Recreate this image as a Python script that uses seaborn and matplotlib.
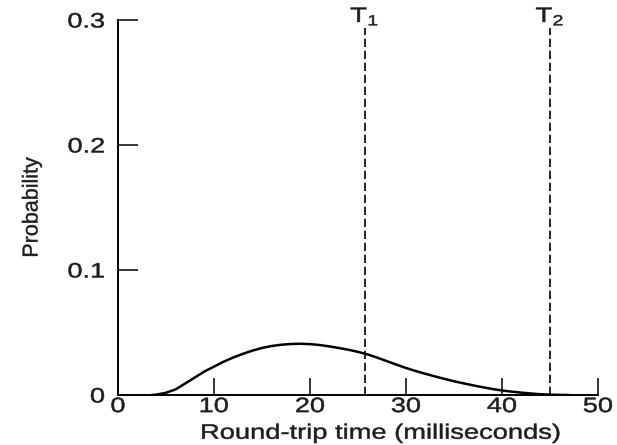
import matplotlib
matplotlib.use("Agg")
import matplotlib.pyplot as plt
import seaborn as sns
import pandas as pd
from matplotlib.patheffects import AbstractPathEffect
from matplotlib.transforms import Affine2D

# Data
rtt_ms = [3.5, 4, 5, 6, 7, 8, 9, 10, 11, 12, 13, 14, 15, 16, 17, 18, 19, 20,
          21, 22, 23, 24, 25, 26, 27, 28, 29, 30, 31, 32, 33, 34, 35, 36, 37,
          38, 39, 40, 41, 42, 43, 44, 45, 46, 47]
probability = [0.0, 0.0003, 0.0018, 0.0045, 0.0092, 0.014, 0.0188, 0.0227,
               0.0266, 0.0300, 0.0329, 0.0355, 0.0376, 0.0392, 0.0402,
               0.0408, 0.0410, 0.0407, 0.0400, 0.0389, 0.0376, 0.0362,
               0.0345, 0.0325, 0.0299, 0.0271, 0.0243, 0.0216, 0.0192,
               0.0170, 0.0149, 0.0129, 0.0110, 0.0093, 0.0077, 0.0062,
               0.0048, 0.0036, 0.0027, 0.0019, 0.0012, 0.0006, 0.0003,
               0.0001, 0.0]
timeouts = [25.7, 45.0]
timeout_labels = ["T$_1$", "T$_2$"]
x_ticks = [0, 10, 20, 30, 40, 50]
y_ticks = [0, 0.1, 0.2, 0.3]
y_tick_labels = ["0", "0.1", "0.2", "0.3"]


class HStretch(AbstractPathEffect):
    """Stretch text glyphs horizontally and thicken them slightly."""

    def __init__(self, sx, anchor="center", stroke=0.35):
        super().__init__()
        self.sx = sx
        self.anchor = anchor
        self.stroke = stroke

    def draw_path(self, renderer, gc, tpath, affine, rgbFace=None):
        ext = tpath.get_extents()
        if self.anchor == "right":
            cx = ext.x1
        elif self.anchor == "left":
            cx = ext.x0
        else:
            cx = 0.5 * (ext.x0 + ext.x1)
        t = Affine2D().translate(-cx, 0).scale(self.sx, 1).translate(cx, 0)
        gc0 = renderer.new_gc()
        gc0.copy_properties(gc)
        if rgbFace is not None and self.stroke > 0:
            gc0.set_foreground(rgbFace)
            gc0.set_linewidth(self.stroke)
        renderer.draw_path(gc0, tpath, t + affine, rgbFace)
        gc0.restore()


sns.set_theme(style="ticks")
plt.rcParams["font.family"] = ["Liberation Sans", "DejaVu Sans"]
plt.rcParams["mathtext.fontset"] = "custom"
plt.rcParams["mathtext.rm"] = "Liberation Sans"
plt.rcParams["mathtext.it"] = "Liberation Sans"
plt.rcParams["mathtext.default"] = "regular"

TXT = "#1c1c24"

fig = plt.figure(figsize=(6.17, 4.45), dpi=100)
ax = fig.add_axes([118 / 617, 50 / 445, 480 / 617, 375 / 445])

df = pd.DataFrame({"rtt": rtt_ms, "prob": probability})
sns.lineplot(data=df, x="rtt", y="prob", ax=ax, color="black", linewidth=1.8)

for t, lab in zip(timeouts, timeout_labels):
    ax.plot([t, t], [0, 0.294], color="black", linewidth=1.2,
            linestyle=(0, (5, 2.2)))
    ax.text(t, 0.2984, lab, ha="center", va="baseline", fontsize=15,
            color=TXT, path_effects=[HStretch(1.33)])

ax.set_xlim(0, 50)
ax.set_ylim(0, 0.3)
ax.set_xticks(x_ticks)
ax.set_xticklabels([str(v) for v in x_ticks])
ax.set_yticks(y_ticks)
ax.set_yticklabels(y_tick_labels)
ax.tick_params(axis="both", direction="in", colors="black", labelsize=15,
               width=1.1, labelcolor=TXT)
ax.tick_params(axis="x", length=12, pad=1.5)
ax.tick_params(axis="y", length=14.5, pad=9.4)
for lbl in ax.get_xticklabels():
    lbl.set_path_effects([HStretch(1.3, "center")])
for lbl in ax.get_yticklabels():
    lbl.set_path_effects([HStretch(1.3, "right")])

ax.set_xlabel("Round-trip time (milliseconds)", fontsize=15, labelpad=5.5,
              color=TXT, x=(381 - 118) / 480)
ax.xaxis.label.set_path_effects([HStretch(1.31)])
ax.set_ylabel("Probability", fontsize=15.5, labelpad=24, color=TXT)
ax.yaxis.label.set_path_effects([HStretch(1.0, stroke=0.3)])

for side in ["top", "right"]:
    ax.spines[side].set_visible(False)
for side in ["left", "bottom"]:
    ax.spines[side].set_linewidth(1.4)
    ax.spines[side].set_color("black")
ax.patch.set_alpha(0)

fig.savefig("out.png", dpi=100)
